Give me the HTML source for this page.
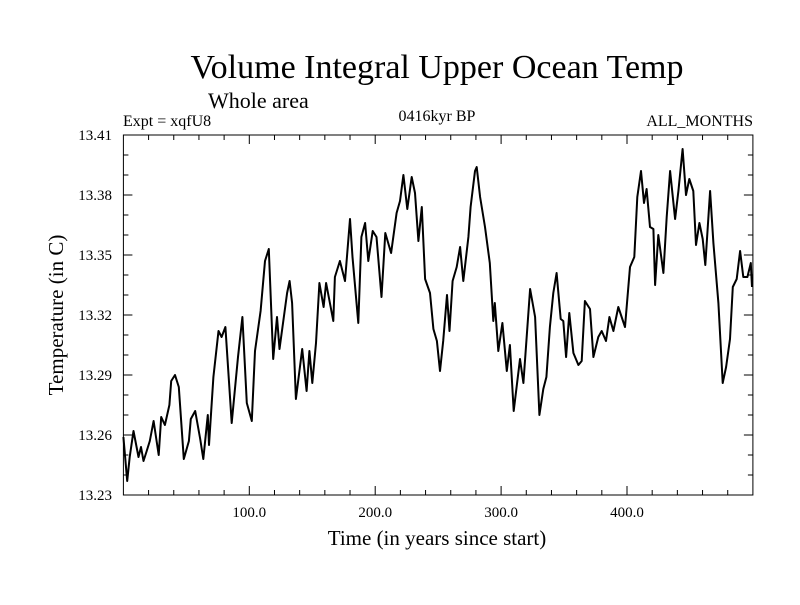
<!DOCTYPE html>
<html><head><meta charset="utf-8"><style>
body{margin:0;background:#fff}
svg text{font-family:"Liberation Serif",serif;fill:#000}
</style></head><body>
<svg id="chart" width="800" height="600" xmlns="http://www.w3.org/2000/svg">
<rect width="800" height="600" fill="#fff"/>
<text x="437" y="78" font-size="34" text-anchor="middle">Volume Integral Upper Ocean Temp</text>
<text x="208" y="108" font-size="22">Whole area</text>
<text x="123" y="126" font-size="16">Expt = xqfU8</text>
<text x="437" y="121" font-size="16" text-anchor="middle">0416kyr BP</text>
<text x="753" y="126" font-size="16" text-anchor="end">ALL_MONTHS</text>
<text x="437" y="545" font-size="21" text-anchor="middle">Time (in years since start)</text>
<text x="0" y="0" font-size="21" text-anchor="middle" transform="translate(63,315) rotate(-90)">Temperature (in C)</text>
<g id="axes"></g>
<path id="series" fill="none" stroke="#000" stroke-width="2" stroke-linejoin="round"/>
<rect x="123.4" y="135" width="629.5" height="360" fill="none" stroke="#000" stroke-width="1"/>
</svg>
<script>
const years=[0,3,5,8,12,14,16,18.5,21,24,28,30,33,36.5,38,41,44,48,52,53.5,57,61,63.5,67,68,71.5,75.5,78,81,86,91,94.5,98,102,104.5,109,112.5,115.5,119,122,124,130,132,134,137,142,145.5,147.7,150,153,155.7,159,161,164,166.7,168,172,176,180,182,186.6,189,192,194.5,198,201,205,208,212.6,217,219.7,222.4,225.5,229,231.6,234.3,237,239.6,243.5,246.2,249,251.5,254,257,259,261.5,264.7,267.4,270,274,275.8,279.3,280.6,283.3,287.2,291,293.8,295,297.8,301,304.5,307,310,315,317.7,323,327,330.4,333.5,336,338.8,341.5,344.1,347.3,349.4,351.6,354.2,357.4,361.4,364,366.6,370.6,373.3,377.2,379.9,383.3,386,389.2,393.1,398.4,402.4,405.8,408.2,411.1,413.5,415.6,418.3,421,422.3,424.9,428.9,431.5,434.2,438.2,440.8,444.2,446.9,449.5,452.7,454.8,457.5,460.1,462.2,466,468.6,472.6,476,478.7,481.8,484,487.1,489.8,492.4,495.6,498.3,499.3];
const temps=[13.259,13.237,13.249,13.262,13.249,13.254,13.247,13.252,13.257,13.267,13.25,13.269,13.265,13.275,13.287,13.29,13.284,13.248,13.257,13.268,13.272,13.258,13.248,13.27,13.255,13.289,13.312,13.309,13.314,13.266,13.299,13.319,13.276,13.267,13.302,13.322,13.347,13.353,13.298,13.319,13.303,13.331,13.337,13.326,13.278,13.303,13.282,13.302,13.286,13.306,13.336,13.324,13.336,13.326,13.317,13.339,13.347,13.337,13.368,13.349,13.316,13.359,13.366,13.347,13.362,13.359,13.329,13.361,13.351,13.371,13.377,13.39,13.373,13.389,13.381,13.357,13.374,13.338,13.331,13.313,13.307,13.292,13.307,13.33,13.312,13.337,13.344,13.354,13.337,13.359,13.374,13.392,13.394,13.379,13.364,13.346,13.317,13.326,13.302,13.316,13.292,13.305,13.272,13.298,13.286,13.333,13.319,13.27,13.283,13.289,13.314,13.331,13.341,13.318,13.317,13.299,13.321,13.301,13.295,13.297,13.327,13.323,13.299,13.309,13.312,13.307,13.319,13.312,13.324,13.314,13.344,13.349,13.379,13.392,13.376,13.383,13.364,13.363,13.335,13.36,13.341,13.369,13.392,13.368,13.382,13.403,13.38,13.388,13.382,13.355,13.366,13.358,13.345,13.382,13.356,13.326,13.286,13.294,13.308,13.334,13.338,13.352,13.339,13.339,13.346,13.334];
const yTickLabels=["13.23","13.26","13.29","13.32","13.35","13.38","13.41"];
const xTickLabels=["100.0","200.0","300.0","400.0"];
const X0=123.4,X1=752.9,Y0=495,Y1=135,xmin=0,xmax=500,ymin=13.23,ymax=13.41;
const xs=v=>X0+(v-xmin)/(xmax-xmin)*(X1-X0);
const ys=v=>Y0-(v-ymin)/(ymax-ymin)*(Y0-Y1);
const NS="http://www.w3.org/2000/svg";
const ax=document.getElementById('axes');
function line(x1,y1,x2,y2){const l=document.createElementNS(NS,'line');l.setAttribute('x1',x1);l.setAttribute('y1',y1);l.setAttribute('x2',x2);l.setAttribute('y2',y2);l.setAttribute('stroke','#000');l.setAttribute('stroke-width','1');ax.appendChild(l);return l;}
for(let v=20;v<500;v+=20){const x=xs(v);const major=v%100===0;const L=major?9:5;
const a=line(x,Y0,x,Y0-L);
const b=line(x,Y1,x,Y1+L);}
for(let i=1;i<18;i++){const v=ymin+i*0.01;const y=ys(v);const major=i%3===0;const L=major?9:5;
const a=line(X0,y,X0+L,y);
const b=line(X1,y,X1-L,y);}
yTickLabels.forEach(s=>{const t=document.createElementNS(NS,'text');t.setAttribute('x',112);t.setAttribute('y',ys(parseFloat(s))+5);t.setAttribute('font-size','15');t.setAttribute('text-anchor','end');t.textContent=s;


ax.appendChild(t);});
xTickLabels.forEach(s=>{const t=document.createElementNS(NS,'text');t.setAttribute('x',xs(parseFloat(s)));t.setAttribute('y',517);t.setAttribute('font-size','15');t.setAttribute('text-anchor','middle');t.textContent=s;


ax.appendChild(t);});
let d='';years.forEach((yr,i)=>{d+=(i?'L':'M')+xs(yr).toFixed(1)+','+ys(temps[i]).toFixed(1);});
document.getElementById('series').setAttribute('d',d);
</script>
</body></html>
